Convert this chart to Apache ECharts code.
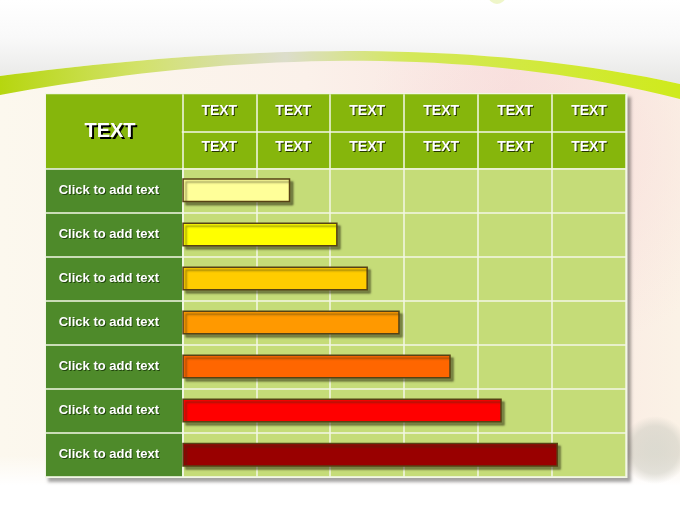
<!DOCTYPE html>
<html>
<head>
<meta charset="utf-8">
<script src="https://cdn.jsdelivr.net/npm/echarts@6/dist/echarts.min.js"></script>
<style>
html,body{margin:0;padding:0;background:#fff;}
#c{width:680px;height:510px;}
</style>
</head>
<body>
<div id="c"></div>
<script>
// ---- data ----
var cornerLabel = 'TEXT';
var headerRow1 = ['TEXT', 'TEXT', 'TEXT', 'TEXT', 'TEXT', 'TEXT'];
var headerRow2 = ['TEXT', 'TEXT', 'TEXT', 'TEXT', 'TEXT', 'TEXT'];
var rowLabels = ['Click to add text', 'Click to add text', 'Click to add text', 'Click to add text',
                 'Click to add text', 'Click to add text', 'Click to add text'];
var barValues = [1.46, 2.10, 2.51, 2.94, 3.63, 4.32, 5.08];

// ---- styles ----
var barColors = ['#FFFF99', '#FFFF00', '#FFCC00', '#FF9900', '#FF6600', '#FF0000', '#990000'];
function lg(x, y, x2, y2, stops) {
  return {type: 'linear', x: x, y: y, x2: x2, y2: y2, global: false,
          colorStops: stops.map(function (s) { return {offset: s[0], color: s[1]}; })};
}
function rg(stops) {
  return {type: 'radial', x: 0.5, y: 0.5, r: 0.5, global: false,
          colorStops: stops.map(function (s) { return {offset: s[0], color: s[1]}; })};
}
// decorative background curve sampled from a cubic bezier
function bez(p0, p1, p2, p3, n) {
  var pts = [];
  for (var i = 0; i <= n; i++) {
    var t = i / n, u = 1 - t;
    pts.push([u*u*u*p0[0] + 3*u*u*t*p1[0] + 3*u*t*t*p2[0] + t*t*t*p3[0],
              u*u*u*p0[1] + 3*u*u*t*p1[1] + 3*u*t*t*p2[1] + t*t*t*p3[1]]);
  }
  return pts;
}
var curveTop = bez([0, 76], [200, 50], [450, 33], [680, 84], 40);
var curveBot = bez([0, 95], [200, 58], [450, 40], [680, 99], 40);
var curveMid = bez([0, 90], [200, 55], [450, 36], [680, 95], 40);

var lineWhite = '#F3F7E6';
var FONT = '"Liberation Sans", Arial, sans-serif';
var headShadow = {textShadowColor: 'rgba(20,30,0,0.85)', textShadowOffsetX: 1, textShadowOffsetY: 1, textShadowBlur: 0.5};

var chart = echarts.init(document.getElementById('c'), null, {renderer: 'canvas'});

var option = {
  animation: false,
  backgroundColor: '#ffffff',
  title: {
    text: cornerLabel,
    left: 110, top: 121, textAlign: 'center', padding: 0,
    textStyle: {
      color: '#ffffff', fontSize: 20, fontWeight: 'bold', fontFamily: FONT,
      textShadowColor: '#000000', textShadowOffsetX: 2, textShadowOffsetY: 2, textShadowBlur: 0.5
    }
  },
  graphic: [
    {type: 'polygon', z: -10, shape: {points: curveMid.concat([[680, 510], [0, 510]])},
     style: {fill: lg(0, 0, 1, 0, [[0, '#FCF8EE'], [0.45, '#FBF1EA'], [0.75, '#F9E4E1'], [1, '#FBF2E6']])}},
    {type: 'circle', z: -9, shape: {cx: 560, cy: 150, r: 200},
     style: {fill: rg([[0, 'rgba(247,214,214,0.55)'], [1, 'rgba(247,214,214,0)']])}},
    {type: 'rect', z: -8, shape: {x: 0, y: 455, width: 680, height: 55},
     style: {fill: lg(0, 0, 0, 1, [[0, 'rgba(255,255,255,0)'], [0.55, 'rgba(255,255,255,1)'], [1, 'rgba(255,255,255,1)']])}},
    {type: 'polygon', z: -7, shape: {points: [[0, 0], [680, 0]].concat(curveTop.slice().reverse())},
     style: {fill: lg(0, 0, 0, 1, [[0, '#FFFFFF'], [0.45, '#F9F9F9'], [1, '#E7E7E5']])}},
    {type: 'circle', z: -7, shape: {cx: 497, cy: -5, r: 9},
     style: {fill: 'rgba(210,230,100,0.35)'}},
    {type: 'polygon', z: -6, shape: {points: curveTop.concat(curveBot.slice().reverse())},
     style: {fill: lg(0, 0, 1, 0, [[0, '#B6D60F'], [0.2, '#D2E268'], [0.42, '#DCDDCB'], [0.6, '#D4E85A'], [1, '#CFEA1C']])}},
    {type: 'circle', z: -6, shape: {cx: 655, cy: 450, r: 34},
     style: {fill: rg([[0, 'rgba(215,215,205,0.85)'], [0.7, 'rgba(205,205,195,0.55)'], [1, 'rgba(205,205,195,0)']])}},
    {type: 'rect', z: -4, shape: {x: 45, y: 93, width: 582.5, height: 385},
     style: {fill: '#F2F6E6', shadowColor: 'rgba(0,0,0,0.35)', shadowBlur: 3, shadowOffsetX: 3, shadowOffsetY: 4}},
    {type: 'rect', z: -3, shape: {x: 46, y: 94.3, width: 580, height: 74},
     style: {fill: '#86B60C'}},
    {type: 'rect', z: -3, shape: {x: 46, y: 168.3, width: 136.3, height: 308.4},
     style: {fill: '#4E8A2A'}}
  ],
  grid: {
    left: 182.3, right: 54, top: 168.3, bottom: 33.3,
    show: true, backgroundColor: '#C5DC78', borderWidth: 0
  },
  xAxis: [
    {
      type: 'value', min: 0, max: 6, interval: 1,
      axisLine: {show: false}, axisTick: {show: false}, axisLabel: {show: false},
      splitLine: {show: true, lineStyle: {color: lineWhite, width: 1.5}}
    },
    {
      type: 'category', data: headerRow2, position: 'top', offset: 0,
      axisLine: {show: false},
      axisTick: {show: true, length: 37, lineStyle: {color: lineWhite, width: 1.5}},
      axisLabel: Object.assign({
        margin: 21, verticalAlign: 'middle', color: '#ffffff', fontSize: 14, fontWeight: 'bold', fontFamily: FONT
      }, headShadow),
      splitLine: {show: false}
    },
    {
      type: 'category', data: headerRow1, position: 'top', offset: 37,
      axisLine: {show: true, lineStyle: {color: lineWhite, width: 1.5}},
      axisTick: {show: true, length: 37, lineStyle: {color: lineWhite, width: 1.5}},
      axisLabel: Object.assign({
        margin: 20, verticalAlign: 'middle', color: '#ffffff', fontSize: 14, fontWeight: 'bold', fontFamily: FONT
      }, headShadow),
      splitLine: {show: false}
    }
  ],
  yAxis: {
    type: 'category', data: rowLabels, inverse: true,
    axisLine: {show: true, lineStyle: {color: lineWhite, width: 1.5}},
    axisTick: {show: true, length: 136.3, lineStyle: {color: lineWhite, width: 1.5}},
    splitLine: {show: true, lineStyle: {color: lineWhite, width: 1.5}},
    axisLabel: {
      margin: 123.6, align: 'left', color: '#ffffff', fontSize: 13, fontWeight: 'bold', fontFamily: FONT,
      textShadowColor: 'rgba(20,50,5,0.8)', textShadowOffsetX: 1, textShadowOffsetY: 1, textShadowBlur: 0.5
    }
  },
  series: [{
    type: 'bar',
    xAxisIndex: 0,
    data: barValues,
    barWidth: 24,
    itemStyle: {
      color: function (p) { return barColors[p.dataIndex]; },
      borderColor: '#564214', borderWidth: 1.5,
      shadowColor: 'rgba(50,50,20,0.5)', shadowBlur: 2, shadowOffsetX: 3, shadowOffsetY: 3
    }
  }]
};
chart.setOption(option);
</script>
</body>
</html>
